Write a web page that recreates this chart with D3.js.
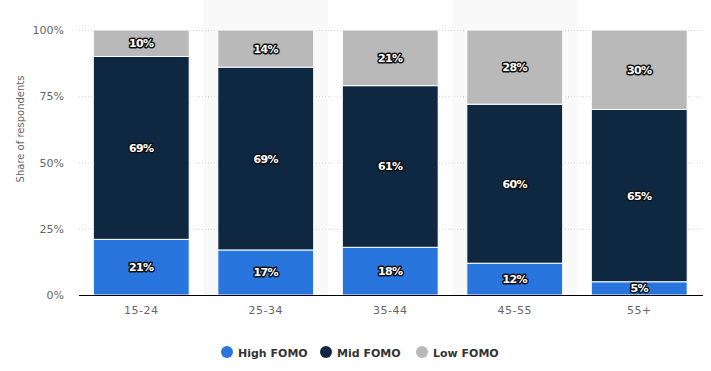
<!DOCTYPE html>
<html>
<head>
<meta charset="utf-8">
<script src="https://cdn.jsdelivr.net/npm/d3@7"></script>
<style>
  body { margin: 0; background: #fff; }
  svg { display: block; }
  .tick text { font-family: Verdana, "DejaVu Sans", sans-serif; }
</style>
</head>
<body>
<div id="chart"></div>
<script>
// leeftijdsgroepen en aandelen (%)
const groepen = ["15-24", "25-34", "35-44", "45-55", "55+"];
const highFomo = [21, 17, 18, 12, 5];
const midFomo = [69, 69, 61, 60, 65];
const lowFomo = [10, 14, 21, 28, 30];
const yTicks = [0, 25, 50, 75, 100];

const series = [
  { name: "High FOMO", values: highFomo, color: "#2876dd" },
  { name: "Mid FOMO", values: midFomo, color: "#0f2841" },
  { name: "Low FOMO", values: lowFomo, color: "#b9b9b9" },
];

const width = 711;
const height = 371;
const margin = { top: 30, right: 10, bottom: 76, left: 79 };

const svg = d3
  .select("#chart")
  .append("svg")
  .attr("width", width)
  .attr("height", height);

// schalen
const x = d3
  .scaleBand()
  .domain(groepen)
  .range([margin.left, 701.5])
  .paddingInner(0.23)
  .paddingOuter(0.115);

const step = x.step();

const y = d3
  .scaleLinear()
  .domain([0, 100])
  .range([height - margin.bottom, margin.top]);

// lichte banden achter elke tweede kolom
svg
  .append("g")
  .selectAll("rect")
  .data(groepen.filter((d, i) => i % 2 === 1))
  .join("rect")
  .attr("x", (d) => x(d) + x.bandwidth() / 2 - step / 2)
  .attr("y", 0)
  .attr("width", step)
  .attr("height", y(0))
  .attr("fill", "#f9f9f9");

// rasterlijnen
svg
  .append("g")
  .selectAll("line")
  .data(yTicks.filter((t) => t > 0))
  .join("line")
  .attr("x1", margin.left)
  .attr("x2", 703)
  .attr("y1", (d) => y(d) + 0.5)
  .attr("y2", (d) => y(d) + 0.5)
  .attr("stroke", "#d6d6d6")
  .attr("stroke-dasharray", "1,2");

// y-as labels
const yAxis = d3
  .axisLeft(y)
  .tickValues(yTicks)
  .tickFormat((d) => d + "%")
  .tickSize(0)
  .tickPadding(15);

svg
  .append("g")
  .attr("transform", `translate(${margin.left},0)`)
  .call(yAxis)
  .call((g) => g.select(".domain").remove())
  .selectAll("text")
  .attr("fill", "#666")
  .attr("font-size", 11);

// gestapelde data
const stackData = groepen.map((g, i) => {
  const obj = { groep: g };
  series.forEach((s) => (obj[s.name] = s.values[i]));
  return obj;
});

const stack = d3.stack().keys(series.map((s) => s.name));
const stacked = stack(stackData);

const lagen = svg
  .append("g")
  .selectAll("g")
  .data(stacked)
  .join("g")
  .attr("fill", (d, i) => series[i].color);

lagen
  .selectAll("rect")
  .data((d) => d)
  .join("rect")
  .attr("x", (d) => x(d.data.groep))
  .attr("width", x.bandwidth())
  .attr("y", (d) => y(d[1]))
  .attr("height", (d) => y(d[0]) - y(d[1]))
  .attr("stroke", "#fff")
  .attr("stroke-width", 1);

// waarde labels
const labels = svg.append("g");
stacked.forEach((laag) => {
  laag.forEach((d) => {
    const v = d[1] - d[0];
    const tx = x(d.data.groep) + x.bandwidth() / 2;
    const ty = (y(d[0]) + y(d[1])) / 2 + 4;
    [true, false].forEach((omlijn) => {
      labels
        .append("text")
        .attr("x", tx)
        .attr("y", ty)
        .attr("text-anchor", "middle")
        .attr("font-family", "Verdana, 'DejaVu Sans', sans-serif")
        .attr("font-weight", "bold")
        .attr("font-size", 11)
        .attr("letter-spacing", -0.6)
        .attr("fill", "#fff")
        .attr("stroke", omlijn ? "#111" : "none")
        .attr("stroke-width", omlijn ? 3 : 0)
        .attr("stroke-linejoin", "round")
        .text(v + "%");
    });
  });
});

// x-as
const xAxis = d3.axisBottom(x).tickSize(0).tickPadding(11);
svg
  .append("g")
  .attr("transform", `translate(0,${y(0)})`)
  .call(xAxis)
  .call((g) =>
    g.select(".domain").attr("stroke", "#000").attr("d", `M${margin.left},0.5H703`)
  )
  .selectAll("text")
  .attr("fill", "#666")
  .attr("font-size", 11)
  .attr("letter-spacing", 0.5);

// y-as titel
svg
  .append("text")
  .attr("transform", "translate(24,129) rotate(-90)")
  .attr("text-anchor", "middle")
  .attr("font-family", "Verdana, 'DejaVu Sans', sans-serif")
  .attr("font-size", 10)
  .attr("fill", "#666")
  .text("Share of respondents");

// legenda
const legendaX = [227, 326, 422];
const legenda = svg
  .append("g")
  .selectAll("g")
  .data(series)
  .join("g")
  .attr("transform", (d, i) => `translate(${legendaX[i]},352)`);

legenda.append("circle").attr("r", 6).attr("fill", (d) => d.color);

legenda
  .append("text")
  .attr("x", 11)
  .attr("y", 4.5)
  .attr("font-family", "'DejaVu Sans', Verdana, sans-serif")
  .attr("font-weight", "bold")
  .attr("font-size", 11)
  .attr("fill", "#333")
  .text((d) => d.name);
</script>
</body>
</html>
